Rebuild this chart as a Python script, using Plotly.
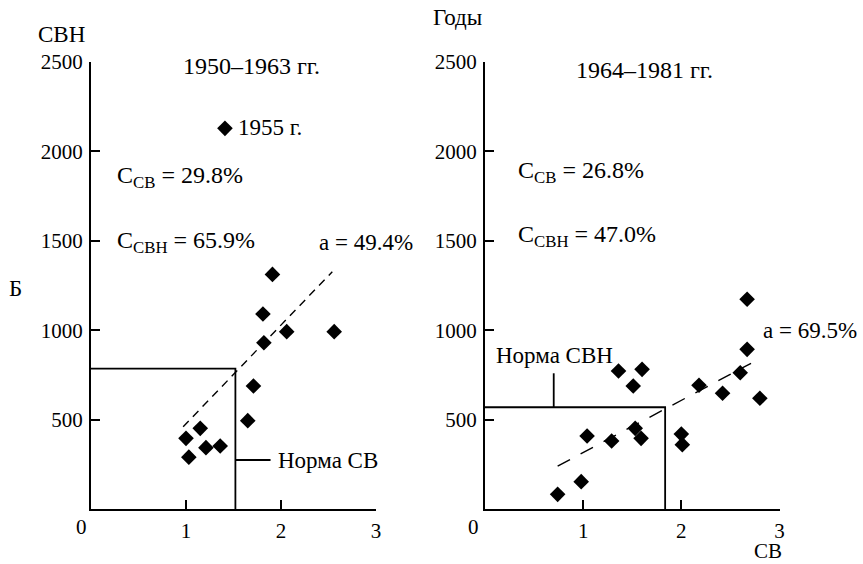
import plotly.graph_objects as go

W, H = 863, 564
ML, MR, MT, MB = 10, 10, 30, 30

# ---- data: left panel 1950-1963 ----
left_sv = [1.00, 1.03, 1.15, 1.21, 1.36, 1.65, 1.71, 1.81, 1.82, 1.91, 2.06, 2.56]
left_svn = [395, 290, 451, 343, 352, 494, 688, 1091, 930, 1312, 992, 992]
left_1955_sv = [1.41]
left_1955_svn = [2129]
left_norm_sv = 1.52
left_norm_svn = 785
left_trend_sv = [0.97, 2.54]
left_trend_svn = [460, 1327]

# ---- data: right panel 1964-1981 ----
right_sv = [0.74, 0.98, 1.04, 1.29, 1.36, 1.51, 1.53, 1.59, 1.60, 2.00, 2.01, 2.18, 2.42, 2.60, 2.67, 2.67, 2.80]
right_svn = [82, 153, 408, 380, 772, 688, 451, 395, 781, 419, 360, 692, 647, 762, 893, 1173, 619]
right_norm_sv = 1.835
right_norm_svn = 569
right_trend_sv = [0.74, 2.71]
right_trend_svn = [240, 815]

x_ticks = [1, 2, 3]
x_tick_text = ["1", "2", "3"]
y_ticks = [500, 1000, 1500, 2000, 2500]
y_tick_text = ["500", "1000", "1500", "2000", "2500"]

FONT = "Liberation Serif"
TICK_SIZE = 21
ANN_SIZE = 23
BIG_SIZE = 24

def px(x):
    return (x - ML) / (W - ML - MR)

def py(y):
    return 1 - (y - MT) / (H - MT - MB)

fig = go.Figure()

mk = dict(symbol="diamond", size=12, color="black", line=dict(width=0))
line_style = dict(color="black", width=1.8)

# left panel
fig.add_trace(go.Scatter(x=left_sv, y=left_svn, mode="markers", marker=mk, xaxis="x", yaxis="y", cliponaxis=False))
fig.add_trace(go.Scatter(x=left_1955_sv, y=left_1955_svn, mode="markers", marker=mk, xaxis="x", yaxis="y", cliponaxis=False))
fig.add_trace(go.Scatter(x=[0, left_norm_sv, left_norm_sv], y=[left_norm_svn, left_norm_svn, 0],
                         mode="lines", line=line_style, xaxis="x", yaxis="y"))
fig.add_trace(go.Scatter(x=left_trend_sv, y=left_trend_svn, mode="lines",
                         line=dict(color="black", width=1.4, dash="8px,6px"), xaxis="x", yaxis="y"))
fig.add_trace(go.Scatter(x=[left_norm_sv, 1.89], y=[274, 274], mode="lines", line=line_style, xaxis="x", yaxis="y"))

# right panel
fig.add_trace(go.Scatter(x=right_sv, y=right_svn, mode="markers", marker=mk, xaxis="x2", yaxis="y2", cliponaxis=False))
fig.add_trace(go.Scatter(x=[0, right_norm_sv, right_norm_sv], y=[right_norm_svn, right_norm_svn, 0],
                         mode="lines", line=line_style, xaxis="x2", yaxis="y2"))
fig.add_trace(go.Scatter(x=right_trend_sv, y=right_trend_svn, mode="lines",
                         line=dict(color="black", width=1.4, dash="14px,12px"), xaxis="x2", yaxis="y2"))
fig.add_trace(go.Scatter(x=[0.70, 0.70], y=[right_norm_svn, 759], mode="lines", line=line_style, xaxis="x2", yaxis="y2"))

yb, yt = py(509), py(62)

def xaxis(dom, anchor):
    return dict(domain=dom, range=[0, 3], showgrid=False, zeroline=False, showline=True,
                linecolor="black", linewidth=2, ticks="inside", ticklen=9, tickwidth=2,
                tickcolor="black", tickvals=x_ticks, ticktext=x_tick_text, anchor=anchor,
                ticklabelstandoff=2, automargin=False,
                tickfont=dict(family=FONT, size=TICK_SIZE, color="black"))

def yaxis(anchor):
    return dict(domain=[yb, yt], range=[0, 2500], showgrid=False, zeroline=False, showline=True,
                linecolor="black", linewidth=2, ticks="inside", ticklen=9, tickwidth=2,
                tickcolor="black", tickvals=y_ticks, ticktext=y_tick_text, anchor=anchor,
                ticklabelstandoff=2, automargin=False,
                tickfont=dict(family=FONT, size=TICK_SIZE, color="black"))

anns = []
def ann(text, x, y, xanchor="left", size=ANN_SIZE):
    anns.append(dict(text=text, x=px(x), y=py(y), xref="paper", yref="paper", showarrow=False,
                     xanchor=xanchor, yanchor="middle",
                     font=dict(family=FONT, size=size, color="black")))

ann("СВН", 36, 35)
ann("Б", 7, 288)
ann("Годы", 431, 17)
ann("СВ", 768, 551, xanchor="center", size=21)
ann("0", 81, 527, xanchor="center", size=TICK_SIZE)
ann("0", 473, 527, xanchor="center", size=TICK_SIZE)

ann("1950–1963 гг.", 181, 66, size=BIG_SIZE)
ann("1955 г.", 236, 128)
ann("C<sub>СВ</sub> = 29.8%", 115, 177, size=BIG_SIZE)
ann("C<sub>СВН</sub> = 65.9%", 115, 242, size=BIG_SIZE)
ann("a = 49.4%", 317, 242)
ann("Норма СВ", 276, 460)

ann("1964–1981 гг.", 574, 70, size=BIG_SIZE)
ann("C<sub>СВ</sub> = 26.8%", 516, 172, size=BIG_SIZE)
ann("C<sub>СВН</sub> = 47.0%", 516, 236, size=BIG_SIZE)
ann("a = 69.5%", 761, 330)
ann("Норма СВН", 494, 355)

fig.update_layout(
    width=W, height=H, margin=dict(l=ML, r=MR, t=MT, b=MB, autoexpand=False),
    paper_bgcolor="white", plot_bgcolor="white", showlegend=False,
    xaxis=xaxis([px(91), px(376)], "y"), yaxis=yaxis("x"),
    xaxis2=xaxis([px(485), px(779.5)], "y2"), yaxis2=yaxis("x2"),
    annotations=anns, font=dict(family=FONT, color="black"),
)

fig.write_html("out.html")
